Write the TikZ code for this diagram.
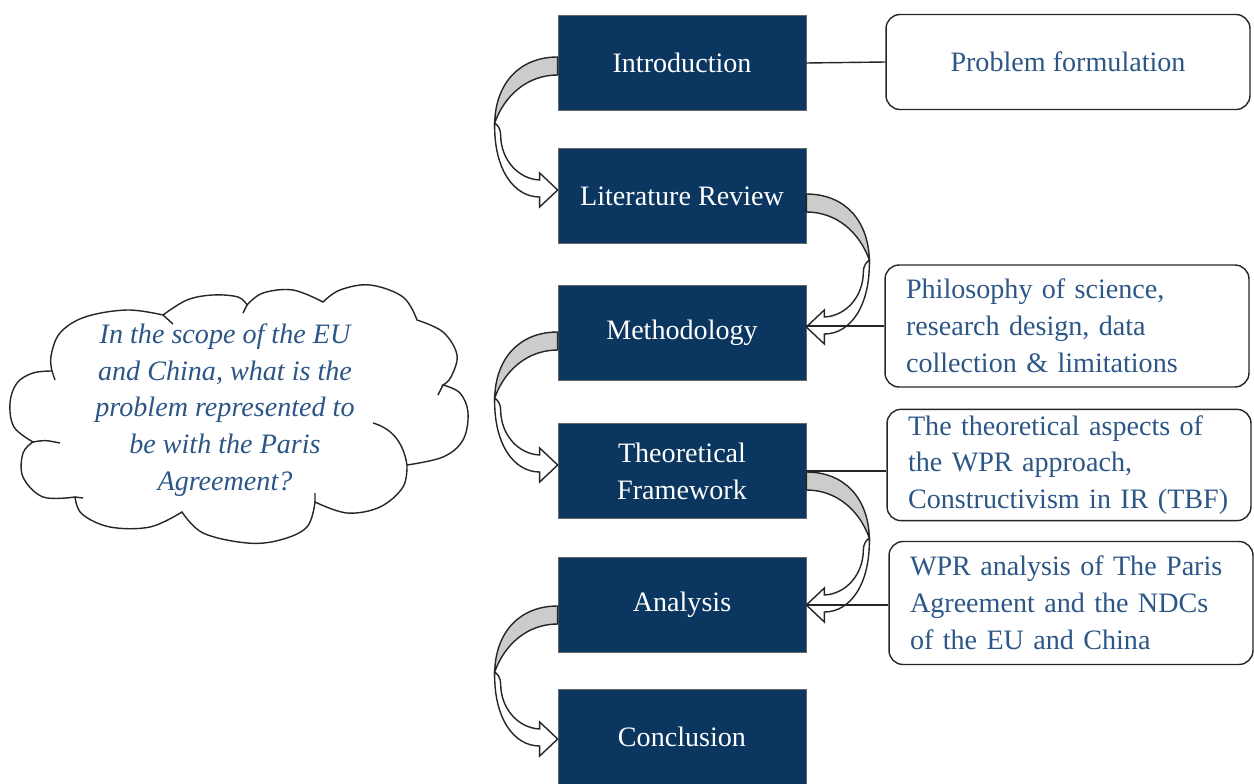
\documentclass[tikz,border=0pt]{standalone}
\usepackage{fontspec}
\setmainfont{Liberation Serif}
\usetikzlibrary{calc}

\definecolor{stagenavy}{RGB}{10,54,96}
\definecolor{noteblue}{RGB}{44,86,134}

\tikzset{
    stagebox/.style={draw=black!60, fill=stagenavy, text=white, minimum width=4.96cm, minimum height=1.9cm, align=center, font=\fontsize{16}{21}\selectfont},
    notebox/.style={draw=black!85, line width=0.8pt, rounded corners=0.28cm, text=noteblue, font=\fontsize{16}{21}\selectfont, minimum width=7.28cm},
    notetext/.style={notebox, align=left, text width=6.44cm, inner xsep=0.42cm},
    link/.style={draw=black!85, line width=0.8pt},
    puff/.style={smooth, tension=0.6},
    pics/bendarrow/.style={code={
        \filldraw[link, fill=black!20] (0,0) .. controls (38,0) and (62,26) .. (63,66) .. controls (53,38) and (30,18) .. (0,18) -- cycle;
        \filldraw[link, fill=white] (63,66) .. controls (64,112) and (44,140) .. (18,140) -- (18,150) -- (0,133) -- (18,116) -- (18,123) .. controls (40,122) and (57,102) .. (57,78) .. controls (57,72) and (60,68) .. (63,66) -- cycle;
    }}
}

\begin{document}
\begin{tikzpicture}[x=0.02cm, y=-0.02cm]
    \useasboundingbox (0,0) rectangle (1254,784);
    \node[stagebox] (intro) at (682,63) {Introduction};
    \node[stagebox] (lit) at (682,196) {Literature Review};
    \node[stagebox] (meth) at (682,333) {Methodology};
    \node[stagebox] (theo) at (682,471) {Theoretical\\Framework};
    \node[stagebox] (anal) at (682,605) {Analysis};
    \node[stagebox] (concl) at (682,737) {Conclusion};

    \node[notebox, minimum height=1.9cm] (prob) at (1068,62) {Problem formulation};
    \node[notetext, minimum height=2.44cm] (phil) at (1067,326) {Philosophy of science,\\research design, data\\collection \& limitations};
    \node[notetext, minimum height=2.2cm] (aspects) at (1069,465) {The theoretical aspects of\\the WPR approach,\\Constructivism in IR (TBF)};
    \node[notetext, minimum height=2.46cm] (wpr) at (1071,603) {WPR analysis of The Paris\\Agreement and the NDCs\\of the EU and China};

    % question cloud
    \filldraw[link, fill=white]
        plot[puff] coordinates {(52,371) (51,356) (60,333) (85,317) (127,310) (163,315)}
        -- plot[puff] coordinates {(163,315) (187,300) (213,295) (238,297) (247,305)}
        -- plot[puff] coordinates {(247,305) (263,293) (293,290) (323,302)}
        -- plot[puff] coordinates {(323,302) (340,290) (370,285) (403,297) (417,320)}
        -- plot[puff] coordinates {(417,320) (443,332) (457,355) (451,377) (443,385)}
        -- plot[puff] coordinates {(443,385) (460,393) (468,413) (463,440) (443,457) (407,465)}
        -- plot[puff] coordinates {(407,465) (403,487) (380,507) (347,513) (315,502)}
        -- plot[puff] coordinates {(315,502) (307,527) (280,540) (247,543) (203,533) (182,512)}
        -- plot[puff] coordinates {(182,512) (150,527) (110,527) (82,514) (75,497)}
        -- plot[puff] coordinates {(75,497) (43,497) (23,477) (23,453) (33,442)}
        -- plot[puff] coordinates {(33,442) (14,427) (10,403) (17,383) (33,373) (52,371)} -- cycle;
    \draw[link] (52,371) -- (55,380) (163,315) -- (173,324) (33,442) .. controls (45,440) .. (60,443)
        (75,497) -- (83,498) (247,305) -- (243,313) (443,385) -- (438,395) (315,502) -- (315,493)
        (407,465) .. controls (403,440) and (390,428) .. (373,423);
    \node[text=noteblue, align=center, font=\fontsize{16}{21}\selectfont\itshape] (questiontext) at (225,410) {In the scope of the EU\\and China, what is the\\problem represented to\\be with the Paris\\Agreement?};

    \pic[xscale=-1] at ($(intro.west)+(0,-6)$) {bendarrow};
    \pic at ($(lit.east)+(0,-2)$) {bendarrow};
    \pic[xscale=-1] at ($(meth.west)+(0,-1)$) {bendarrow};
    \pic at ($(theo.east)+(0,1)$) {bendarrow};
    \pic[xscale=-1] at ($(anal.west)+(0,1)$) {bendarrow};

    \draw[link] (intro.east) -- (prob.west);
    \draw[link] (phil.west) -- (phil.west -| meth.east);
    \draw[link] (theo.east) -- (theo.east -| aspects.west);
    \draw[link] (anal.east) -- (anal.east -| wpr.west);
\end{tikzpicture}
\end{document}
